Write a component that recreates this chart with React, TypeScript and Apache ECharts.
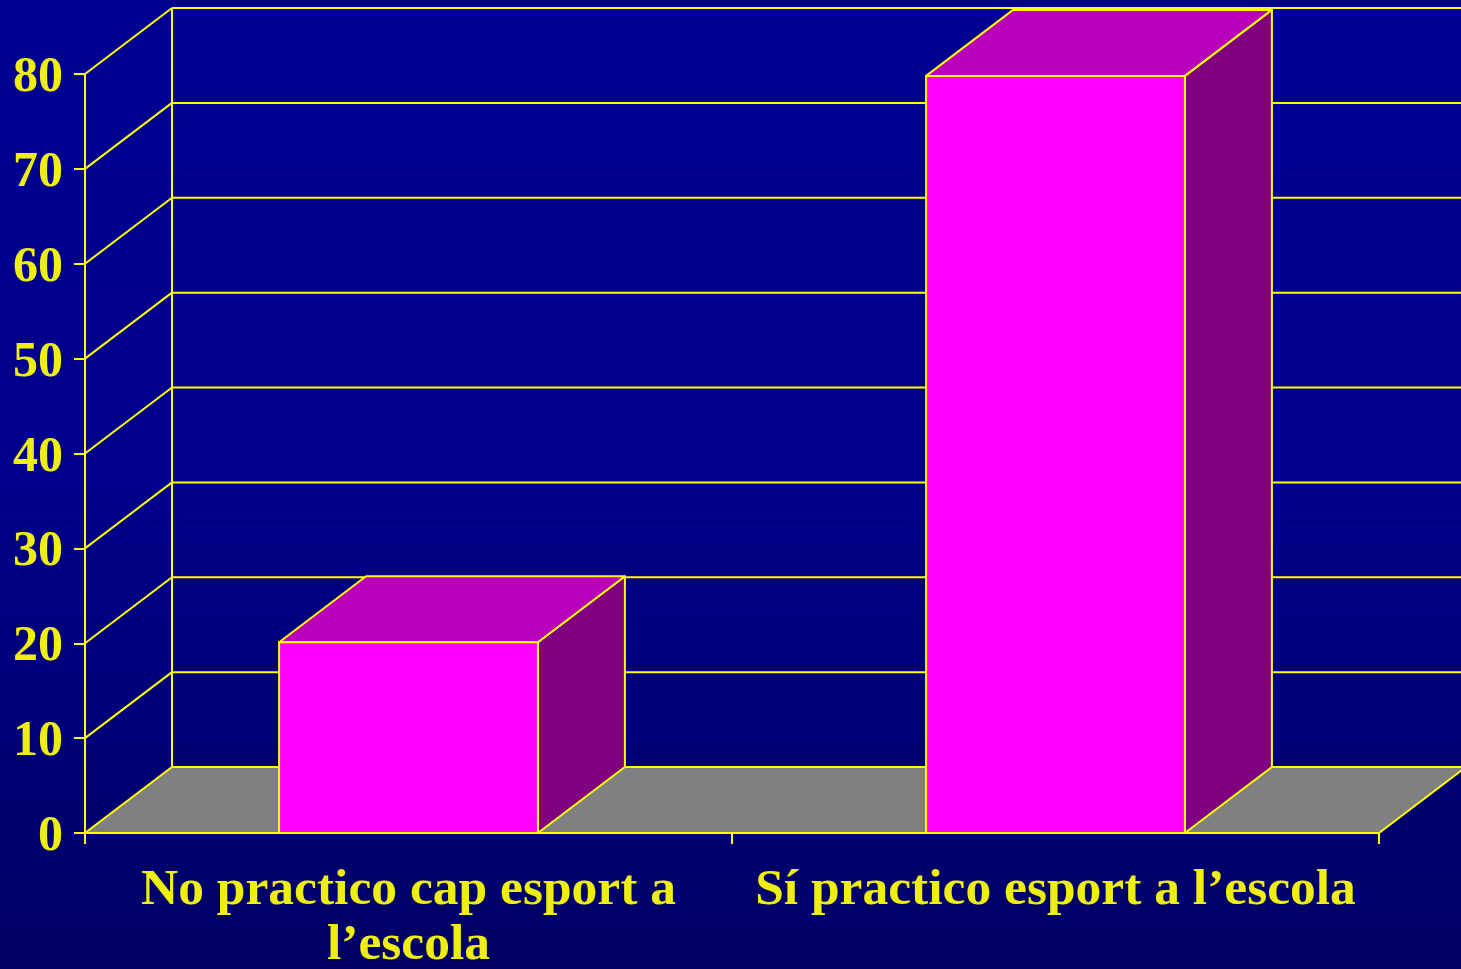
import React, { useEffect, useRef } from "react";
import * as echarts from "echarts";

const categories = ["No practico cap esport a\nl’escola", "Sí practico esport a l’escola"];
const values = [20.1, 79.8];
const yTicks = [0, 10, 20, 30, 40, 50, 60, 70, 80];

const DX = 87;
const DY = -66;
const LINE = "#FFFF00";
const TEXT = "#EEEE10";
const LW = 2;

export default function App() {
  const ref = useRef<HTMLDivElement>(null);
  useEffect(() => {
    if (!ref.current) return;
    const chart = echarts.init(ref.current, undefined, { renderer: "svg" });
    const lineStyle = { stroke: LINE, lineWidth: LW, fill: null };
    chart.setOption({
      animation: false,
      backgroundColor: "transparent",
      grid: { left: 85, right: 82, top: 74, bottom: 132, containLabel: false },
      xAxis: {
        type: "category",
        data: categories,
        boundaryGap: true,
        axisLine: { lineStyle: { color: LINE, width: LW } },
        axisTick: { show: true, length: 11, alignWithLabel: false, lineStyle: { color: LINE, width: LW } },
        axisLabel: {
          color: TEXT,
          fontFamily: "Liberation Serif",
          fontWeight: "bold",
          fontSize: 51.5,
          lineHeight: 55,
          margin: 26,
          interval: 0,
        },
        splitLine: { show: false },
      },
      yAxis: {
        type: "value",
        min: 0,
        max: 80,
        interval: 10,
        axisLine: { show: true, lineStyle: { color: LINE, width: LW } },
        axisTick: { show: true, length: 11, lineStyle: { color: LINE, width: LW } },
        axisLabel: {
          color: TEXT,
          fontFamily: "Liberation Serif",
          fontWeight: "bold",
          fontSize: 50,
          margin: 22,
        },
        splitLine: { show: false },
      },
      series: [
        {
          type: "custom",
          name: "walls",
          z: 1,
          clip: false,
          data: yTicks.map((v) => [0, v]),
          encode: { x: 0, y: 1 },
          renderItem: (params: any, api: any) => {
            const cs = params.coordSys;
            const v = api.value(1);
            const y = api.coord([0, v])[1];
            const x0 = cs.x;
            const x1 = cs.x + cs.width;
            const children: any[] = [];
            if (v === 0) {
              children.push({
                type: "polygon",
                shape: { points: [[x0, y], [x1, y], [x1 + DX, y + DY], [x0 + DX, y + DY]] },
                style: { fill: "#808080", stroke: LINE, lineWidth: LW },
              });
              const yTop = api.coord([0, yTicks[yTicks.length - 1]])[1];
              children.push({
                type: "line",
                shape: { x1: x0 + DX, y1: y + DY, x2: x0 + DX, y2: yTop + DY },
                style: lineStyle,
              });
            } else {
              children.push({
                type: "line",
                shape: { x1: x0 + DX, y1: y + DY, x2: x1 + DX + 20, y2: y + DY },
                style: lineStyle,
              });
              children.push({
                type: "line",
                shape: { x1: x0, y1: y, x2: x0 + DX, y2: y + DY },
                style: lineStyle,
              });
            }
            return { type: "group", children };
          },
        },
        {
          type: "custom",
          name: "bars",
          z: 3,
          clip: false,
          data: values.map((v, i) => [i, v]),
          encode: { x: 0, y: 1 },
          renderItem: (params: any, api: any) => {
            const i = api.value(0);
            const v = api.value(1);
            const base = api.coord([i, 0]);
            const top = api.coord([i, v]);
            const w = api.size([1, 0])[0] * 0.4;
            const xL = base[0] - w / 2;
            const xR = xL + w;
            const yB = base[1];
            const yT = top[1];
            const st = (fill: string) => ({ fill, stroke: LINE, lineWidth: LW, lineJoin: "round" });
            return {
              type: "group",
              children: [
                {
                  type: "polygon",
                  shape: { points: [[xR, yT], [xR + DX, yT + DY], [xR + DX, yB + DY], [xR, yB]] },
                  style: st("#800080"),
                },
                {
                  type: "polygon",
                  shape: { points: [[xL, yT], [xR, yT], [xR + DX, yT + DY], [xL + DX, yT + DY]] },
                  style: st("#BB00BB"),
                },
                {
                  type: "polygon",
                  shape: { points: [[xL, yT], [xR, yT], [xR, yB], [xL, yB]] },
                  style: st("#FF00FF"),
                },
              ],
            };
          },
        },
      ],
    });
    return () => chart.dispose();
  }, []);
  return (
    <div
      ref={ref}
      style={{
        position: "fixed",
        left: 0,
        top: 0,
        width: 1461,
        height: 969,
        background: "linear-gradient(to bottom, #000092 0%, #00008A 50%, #000064 100%)",
      }}
    />
  );
}
